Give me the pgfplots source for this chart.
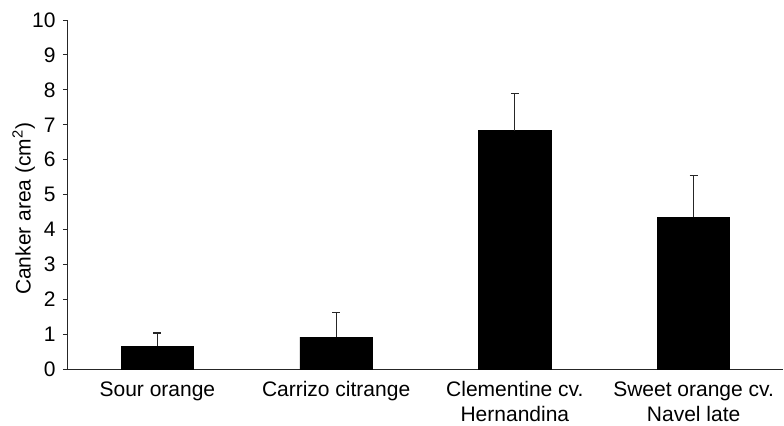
\documentclass[border=0pt]{standalone}
\usepackage{pgfplots}
\pgfplotsset{compat=1.18}
\usepackage{fontspec}
\setmainfont{Liberation Sans}
\begin{document}
\fontsize{10.5}{12.5}\selectfont
\begin{tikzpicture}
\begin{axis}[
  scale only axis,
  anchor=south west,
  at={(34pt,27.85pt)},
  width=357.5pt, height=174.65pt,
  xmin=-0.5, xmax=3.5,
  ymin=0, ymax=10,
  axis lines=left,
  axis line style={-, line width=0.5pt, black!85},
  ytick={0,1,...,10},
  xtick={0,1,2,3},
  xticklabels={Sour orange, Carrizo citrange, {Clementine cv.\\Hernandina}, {Sweet orange cv.\\Navel late}},
  xticklabel style={align=center, font=\fontsize{10.5}{12.5}\selectfont, yshift=0pt},
  yticklabel style={font=\fontsize{10.5}{12.5}\selectfont},
  major x tick style={draw=none},
  extra x ticks={-0.5,0.5,1.5,2.5},
  extra x tick labels={},
  extra x tick style={major tick length=3.5pt, tick align=outside, major tick style={black!85, line width=0.5pt}},
  tick align=outside,
  major tick length=2.5pt,
  tick style={black!85, line width=0.5pt},
  /pgf/number format/assume math mode=true,
  ylabel={Canker area (cm\textsuperscript{2})},
  ylabel style={at={(axis description cs:-0.062,0.46)}, anchor=center, font=\fontsize{10.5}{12.5}\selectfont},
  clip=false,
]
\addplot[ybar, bar width=0.405, fill=black, draw=black,
  error bars/.cd, y dir=plus, y explicit,
  error bar style={line width=0.5pt, black!85},
  error mark options={line width=0.6pt, black!85, mark size=2pt, rotate=90}]
  coordinates {
    (0,0.66) +- (0,0.38)
    (1,0.92) +- (0,0.71)
    (2,6.83) +- (0,1.06)
    (3,4.35) +- (0,1.19)
  };
\end{axis}
\pgfresetboundingbox
\useasboundingbox (0,0) rectangle (392pt,212.5pt);
\end{tikzpicture}
\end{document}
